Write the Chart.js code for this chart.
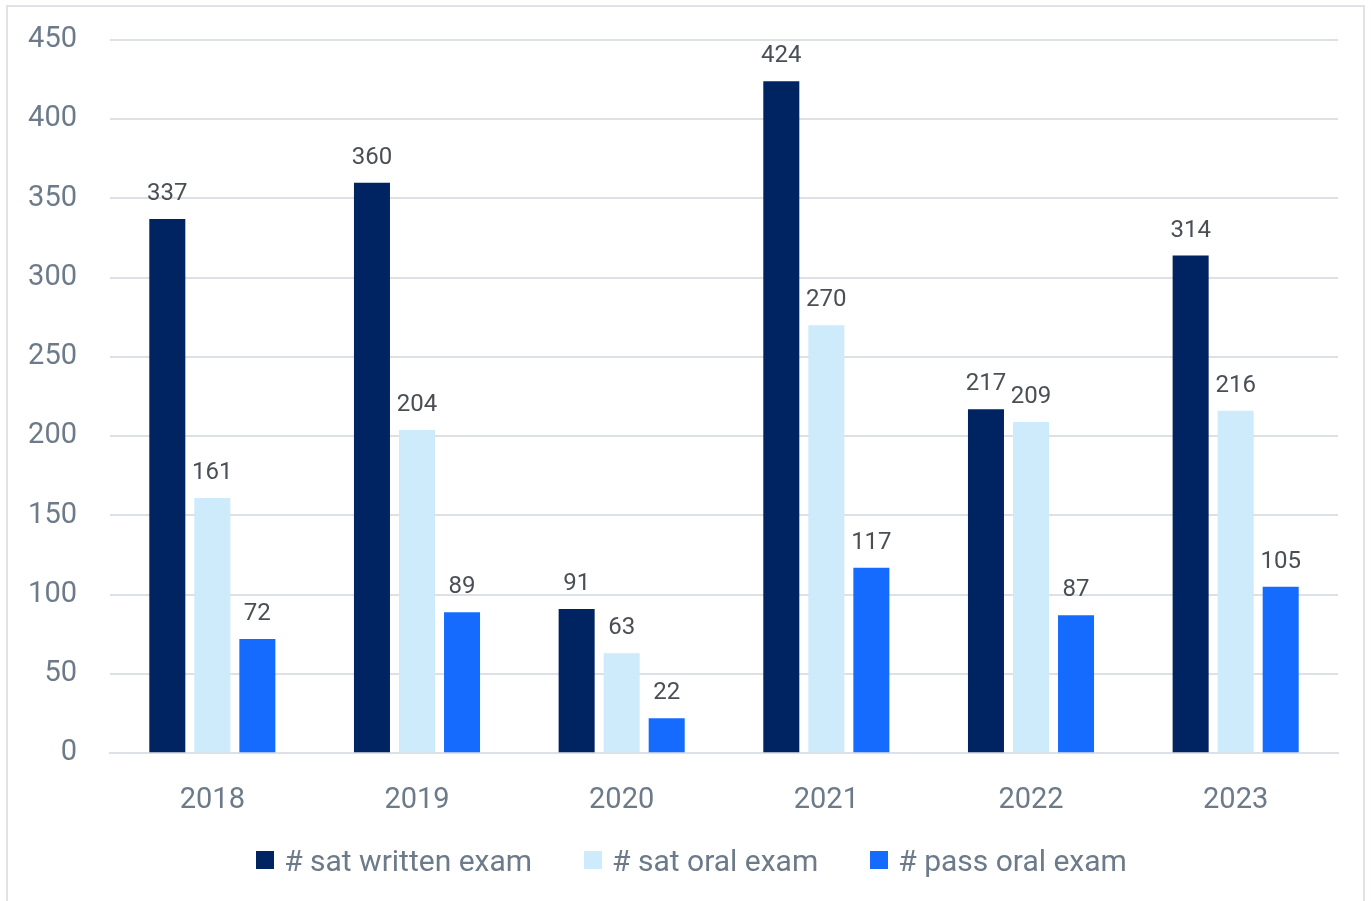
<!DOCTYPE html>
<html>
<head>
<meta charset="utf-8">
<script src="https://cdn.jsdelivr.net/npm/chart.js@4"></script>
<style>
  html, body { margin: 0; padding: 0; background: #fff; }
  #wrap { position: relative; width: 1371px; height: 901px; overflow: hidden; font-family: Roboto, "Noto Sans", sans-serif; }
  #frame { position: absolute; left: 6px; top: 5px; width: 1359px; height: 920px; border: 2px solid #dfe3e8; box-sizing: border-box; }
  #chartBox { position: absolute; left: 0; top: 0; width: 1371px; height: 901px; }
  #legend { position: absolute; left: 6px; top: 842px; width: 1371px; height: 36px; display: flex; justify-content: center; align-items: center; }
  .item { display: flex; align-items: center; margin: 0 26px; font-size: 30px; color: #6c7a89; white-space: nowrap; }
  .swatch { width: 18px; height: 18px; margin-right: 10px; }
</style>
</head>
<body>
<div id="wrap">
  <div id="frame"></div>
  <div id="chartBox"><canvas id="examChart"></canvas></div>
  <div id="legend"></div>
</div>
<script>
// Dades llegides del gràfic
const YEARS = ['2018', '2019', '2020', '2021', '2022', '2023'];
const SAT_WRITTEN = [337, 360, 91, 424, 217, 314];
const SAT_ORAL = [161, 204, 63, 270, 209, 216];
const PASS_ORAL = [72, 89, 22, 117, 87, 105];
const Y_MAX = 450;
const Y_STEP = 50;

const FONT = 'Roboto, "Noto Sans", sans-serif';
const GREY_TEXT = '#6c7a89';

// Etiquetes de valor damunt de cada barra
const valueLabels = {
    id: 'valueLabels',
    afterDatasetsDraw(chart) {
        const ctx = chart.ctx;
        ctx.save();
        ctx.font = '24px ' + FONT;
        ctx.fillStyle = '#4a4f55';
        ctx.textAlign = 'center';
        ctx.textBaseline = 'bottom';
        chart.data.datasets.forEach((ds, i) => {
            chart.getDatasetMeta(i).data.forEach((bar, j) => {
                ctx.fillText(ds.data[j], bar.x, bar.y - 13);
            });
        });
        ctx.restore();
    }
};

const ctx = document.getElementById('examChart').getContext('2d');
const chart = new Chart(ctx, {
    type: 'bar',
    data: {
        labels: YEARS,
        datasets: [
            { label: '# sat written exam', data: SAT_WRITTEN, backgroundColor: '#002361' },
            { label: '# sat oral exam', data: SAT_ORAL, backgroundColor: '#cdebfb' },
            { label: '# pass oral exam', data: PASS_ORAL, backgroundColor: '#166bff' }
        ]
    },
    options: {
        responsive: true,
        maintainAspectRatio: false,
        animation: false,
        categoryPercentage: 0.66,
        barPercentage: 0.8,
        layout: { padding: { top: 40, left: 0, right: 33, bottom: 61 } },
        plugins: {
            legend: { display: false },
            tooltip: { enabled: false }
        },
        scales: {
            x: {
                grid: { display: false },
                border: { color: '#dde1e6', width: 2 },
                ticks: { color: GREY_TEXT, padding: 22, font: { family: FONT, size: 29 } }
            },
            y: {
                min: 0,
                max: Y_MAX,
                border: { display: false },
                grid: { color: '#dde1e6', lineWidth: 2, drawTicks: false },
                afterFit: scale => {
                    scale.width = 110;
                    scale.paddingTop = 0;
                    scale.paddingBottom = 0;
                },
                ticks: {
                    stepSize: Y_STEP,
                    padding: 33,
                    color: GREY_TEXT,
                    font: { family: FONT, size: 29 }
                }
            }
        }
    },
    plugins: [valueLabels]
});

// Llegenda en HTML (més espai entre elements que la del canvas)
const legendEl = document.getElementById('legend');
chart.data.datasets.forEach(ds => {
    const item = document.createElement('div');
    item.className = 'item';
    const sw = document.createElement('span');
    sw.className = 'swatch';
    sw.style.background = ds.backgroundColor;
    item.appendChild(sw);
    item.appendChild(document.createTextNode(ds.label));
    legendEl.appendChild(item);
});
</script>
</body>
</html>
